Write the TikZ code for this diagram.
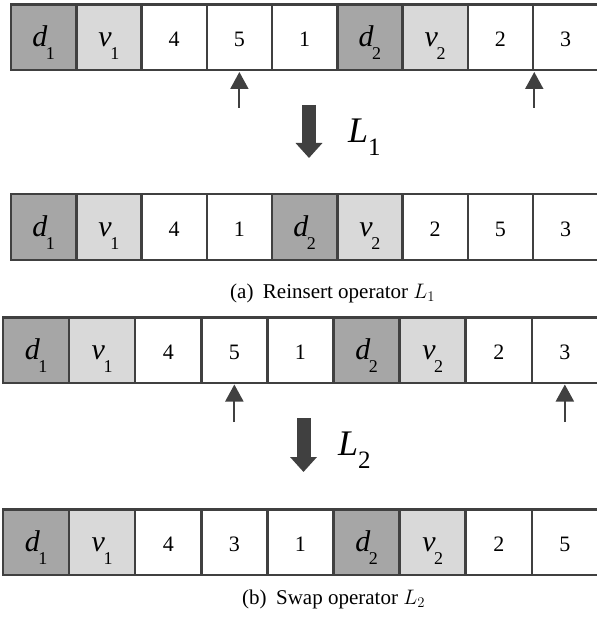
\RequirePackage{fix-cm}
\documentclass[tikz,border=0pt]{standalone}
\usepackage{fontspec}
\setmainfont{Liberation Serif}
\usetikzlibrary{arrows.meta}
\definecolor{edge}{HTML}{404040}
\definecolor{dfill}{HTML}{A6A6A6}
\definecolor{vfill}{HTML}{D9D9D9}
\newcommand{\numtxt}[1]{{\fontsize{22}{22}\selectfont #1}}
\newcommand{\vartxt}[2]{{\fontsize{30}{30}\selectfont\itshape #1}\kern-1.5pt\raisebox{-13pt}{\fontsize{18}{18}\selectfont #2}}
\tikzset{
  cell/.style={draw=edge, line width=2.5pt, fill=white, inner sep=0pt,
    minimum height=65.5pt, text height=19pt, text depth=0pt},
  dcell/.style={cell, fill=dfill},
  vcell/.style={cell, fill=vfill},
  smallarrow/.style={draw=edge, line width=2pt, -{Triangle[length=17pt,width=18pt]}, shorten >=0.5pt},
  bigarrow/.style={draw=edge, line width=14pt, -{Triangle[length=15pt,width=26pt]}},
  oplabel/.style={anchor=base west, inner sep=0pt},
  caption/.style={anchor=base west, inner sep=0pt, font=\fontsize{21}{21}\selectfont}
}
\begin{document}
\begin{tikzpicture}[x=1pt,y=-1pt]
\useasboundingbox (0,0) rectangle (596,617);
% Row 1
\foreach \t [count=\i] in {x,x,4,5,1,D,V,2,3} {
  \pgfmathsetmacro{\cx}{11+65.25*(\i-0.5)}
  \ifnum\i=1 \node[dcell, minimum width=65.25pt] (r1c\i) at (\cx,37.5) {\vartxt{d}{1}};
  \else\ifnum\i=2 \node[vcell, minimum width=65.25pt] (r1c\i) at (\cx,37.5) {\vartxt{v}{1}};
  \else\ifnum\i=6 \node[dcell, minimum width=65.25pt] (r1c\i) at (\cx,37.5) {\vartxt{d}{2}};
  \else\ifnum\i=7 \node[vcell, minimum width=65.25pt] (r1c\i) at (\cx,37.5) {\vartxt{v}{2}};
  \else \node[cell, minimum width=65.25pt] (r1c\i) at (\cx,37.5) {\numtxt{\t}};
  \fi\fi\fi\fi
}
% Row 2
\foreach \t [count=\i] in {x,x,4,1,D,V,2,5,3} {
  \pgfmathsetmacro{\cx}{11+65.25*(\i-0.5)}
  \ifnum\i=1 \node[dcell, minimum width=65.25pt] (r2c\i) at (\cx,227) {\vartxt{d}{1}};
  \else\ifnum\i=2 \node[vcell, minimum width=65.25pt] (r2c\i) at (\cx,227) {\vartxt{v}{1}};
  \else\ifnum\i=5 \node[dcell, minimum width=65.25pt] (r2c\i) at (\cx,227) {\vartxt{d}{2}};
  \else\ifnum\i=6 \node[vcell, minimum width=65.25pt] (r2c\i) at (\cx,227) {\vartxt{v}{2}};
  \else \node[cell, minimum width=65.25pt] (r2c\i) at (\cx,227) {\numtxt{\t}};
  \fi\fi\fi\fi
}
% Row 3
\foreach \t [count=\i] in {x,x,4,5,1,D,V,2,3} {
  \pgfmathsetmacro{\cx}{3+66.1*(\i-0.5)}
  \ifnum\i=1 \node[dcell, minimum width=66.1pt] (r3c\i) at (\cx,350) {\vartxt{d}{1}};
  \else\ifnum\i=2 \node[vcell, minimum width=66.1pt] (r3c\i) at (\cx,350) {\vartxt{v}{1}};
  \else\ifnum\i=6 \node[dcell, minimum width=66.1pt] (r3c\i) at (\cx,350) {\vartxt{d}{2}};
  \else\ifnum\i=7 \node[vcell, minimum width=66.1pt] (r3c\i) at (\cx,350) {\vartxt{v}{2}};
  \else \node[cell, minimum width=66.1pt] (r3c\i) at (\cx,350) {\numtxt{\t}};
  \fi\fi\fi\fi
}
% Row 4
\foreach \t [count=\i] in {x,x,4,3,1,D,V,2,5} {
  \pgfmathsetmacro{\cx}{3+66.1*(\i-0.5)}
  \ifnum\i=1 \node[dcell, minimum width=66.1pt] (r4c\i) at (\cx,542) {\vartxt{d}{1}};
  \else\ifnum\i=2 \node[vcell, minimum width=66.1pt] (r4c\i) at (\cx,542) {\vartxt{v}{1}};
  \else\ifnum\i=6 \node[dcell, minimum width=66.1pt] (r4c\i) at (\cx,542) {\vartxt{d}{2}};
  \else\ifnum\i=7 \node[vcell, minimum width=66.1pt] (r4c\i) at (\cx,542) {\vartxt{v}{2}};
  \else \node[cell, minimum width=66.1pt] (r4c\i) at (\cx,542) {\numtxt{\t}};
  \fi\fi\fi\fi
}
% small arrows
\coordinate (p1) at (r1c4.south |- 0,108);
\coordinate (p2) at (r1c8.south east |- 0,108);
\draw[smallarrow] (p1) -- (r1c4.south);
\draw[smallarrow] (p2) -- (r1c8.south east);
\coordinate (p3) at (r3c4.south |- 0,422);
\coordinate (p4) at (r3c9.south |- 0,422);
\draw[smallarrow] (p3) -- (r3c4.south);
\draw[smallarrow] (p4) -- (r3c9.south);
% big arrows
\coordinate (b1s) at (309,105);
\coordinate (b1e) at (309,158);
\draw[bigarrow] (b1s) -- (b1e);
\coordinate (b2s) at (303.5,418);
\coordinate (b2e) at (303.5,472);
\draw[bigarrow] (b2s) -- (b2e);
\node[oplabel] (L1) at (348,143) {{\fontsize{36}{36}\selectfont\itshape L}\raisebox{-13pt}{\fontsize{25}{25}\selectfont 1}};
\node[oplabel] (L2) at (338,455) {{\fontsize{36}{36}\selectfont\itshape L}\raisebox{-13pt}{\fontsize{25}{25}\selectfont 2}};
% captions
\node[caption] (capa) at (230,298) {(a)\hspace{0.45em}Reinsert operator $L_1$};
\node[caption] (capb) at (242,604) {(b)\hspace{0.45em}Swap operator $L_2$};
\end{tikzpicture}
\end{document}
